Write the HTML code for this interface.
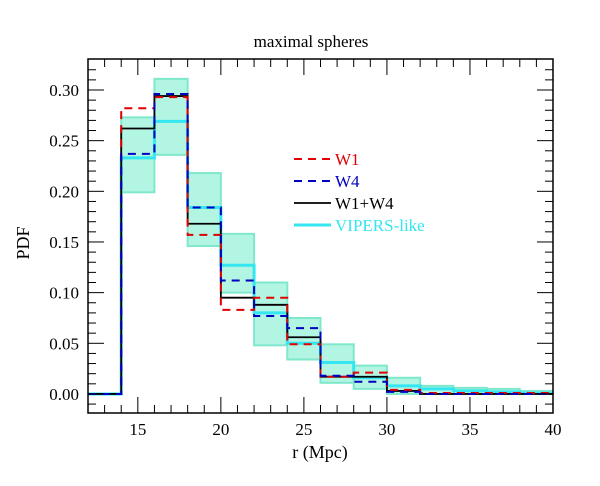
<!DOCTYPE html>
<html><head><meta charset="utf-8"><style>
body{margin:0;background:#fff}
svg text{font-family:"Liberation Serif",serif;}
</style></head><body>
<svg id="c" width="600" height="481" xmlns="http://www.w3.org/2000/svg">
<text x="311" y="47" font-size="17" text-anchor="middle">maximal spheres</text>
<text x="320" y="458" font-size="18" text-anchor="middle">r (Mpc)</text>
<text transform="translate(29,243) rotate(-90)" font-size="18" text-anchor="middle">PDF</text>
<g id="band"></g>
<g id="series"></g>
<g id="axes"></g>
<g id="legend"></g>
</svg>
<script>
const binEdges=[14,16,18,20,22,24,26,28,30,32,34,36,38,40];
const w1=[0.282,0.293,0.157,0.083,0.095,0.049,0.017,0.021,0.004,0.001,0.001,0.001,0.001];
const w4=[0.237,0.296,0.184,0.112,0.077,0.065,0.018,0.012,0.002,0.0,0.0,0.0,0.0];
const w14=[0.262,0.294,0.168,0.095,0.088,0.056,0.017,0.017,0.003,0.0,0.0,0.0,0.0];
const vipers=[0.233,0.269,0.184,0.127,0.080,0.050,0.031,0.016,0.008,0.005,0.003,0.002,0.001];
const bandLo=[0.199,0.236,0.146,0.100,0.048,0.034,0.011,0.005,0.0,0.0,0.0,0.0,0.0];
const bandHi=[0.273,0.311,0.218,0.158,0.110,0.075,0.049,0.028,0.016,0.008,0.006,0.005,0.003];
const xTicks=[15,20,25,30,35,40];
const yTicks=[0,0.05,0.10,0.15,0.20,0.25,0.30];
const legendLabels=["W1","W4","W1+W4","VIPERS-like"];

const NS="http://www.w3.org/2000/svg";
const L=88,R=553,T=59,B=413,X0=12,X1=40,Y0=-0.0188,Y1=0.3306;
const sx=v=>L+(v-X0)/(X1-X0)*(R-L);
const sy=v=>B-(v-Y0)/(Y1-Y0)*(B-T);
function mk(tag,attrs,parent){const e=document.createElementNS(NS,tag);for(const k in attrs)e.setAttribute(k,attrs[k]);parent.appendChild(e);return e;}
const band=document.getElementById('band');
bandLo.forEach((lo,i)=>{
  const r=mk('rect',{x:sx(binEdges[i]),y:sy(bandHi[i]),width:sx(binEdges[i+1])-sx(binEdges[i]),height:Math.max(0,sy(lo)-sy(bandHi[i])),fill:'#b3f5e3',stroke:'#7fe8cc','stroke-width':2},band);
  
  
});
function stepPath(vals){
  let d='M'+sx(X0)+','+sy(0)+' L'+sx(binEdges[0])+','+sy(0);
  vals.forEach((v,i)=>{d+=' L'+sx(binEdges[i])+','+sy(v)+' L'+sx(binEdges[i+1])+','+sy(v);});
  return d;
}
const ser=document.getElementById('series');
const specs=[[vipers,'#33e6f0',3,'','vipers-line'],[w14,'#000',1.8,'','w1w4-line'],[w1,'#e00000',2,'8,6','w1-line'],[w4,'#0000c0',2,'8,6','w4-line']];
specs.forEach(s=>{
  const p=mk('path',{d:stepPath(s[0]),fill:'none',stroke:s[1],'stroke-width':s[2],'stroke-dasharray':s[3]},ser);
  
  
});
const ax=document.getElementById('axes');
const fr=mk('rect',{x:L,y:T,width:R-L,height:B-T,fill:'none',stroke:'#000','stroke-width':1.5},ax);


for(let v=13;v<=39;v++){const big=v%5==0;const l=big?16:8;
  mk('line',{x1:sx(v),x2:sx(v),y1:B,y2:B-l,stroke:'#000'},ax);
  mk('line',{x1:sx(v),x2:sx(v),y1:T,y2:T+l,stroke:'#000'},ax);}
for(let k=-1;k<=32;k++){const v=k*0.01;if(sy(v)>B||sy(v)<T)continue;const big=k%5==0;const l=big?16:8;
  mk('line',{x1:L,x2:L+l,y1:sy(v),y2:sy(v),stroke:'#000'},ax);
  mk('line',{x1:R,x2:R-l,y1:sy(v),y2:sy(v),stroke:'#000'},ax);}
xTicks.forEach(v=>{const t=mk('text',{x:sx(v),y:B+22,'font-size':17,'text-anchor':'middle'},ax);t.textContent=v;
  
  });
yTicks.forEach(v=>{const t=mk('text',{x:L-9,y:sy(v)+6,'font-size':17,'text-anchor':'end'},ax);t.textContent=v.toFixed(2);
  
  });
const lg=document.getElementById('legend');
const lstyles=[['#e00000',2,'8,6'],['#0000c0',2,'8,6'],['#000',1.8,''],['#33e6f0',3,'']];
const tcol=['#e00000','#0000c0','#000','#33e6f0'];
legendLabels.forEach((s,i)=>{const y=159+i*22;
  const ln=mk('line',{x1:294,x2:331,y1:y,y2:y,stroke:lstyles[i][0],'stroke-width':lstyles[i][1],'stroke-dasharray':lstyles[i][2]},lg);
  
  
  const t=mk('text',{x:335,y:y+6,'font-size':17,fill:tcol[i]},lg);t.textContent=s;
  
  
});
</script>
</body></html>
